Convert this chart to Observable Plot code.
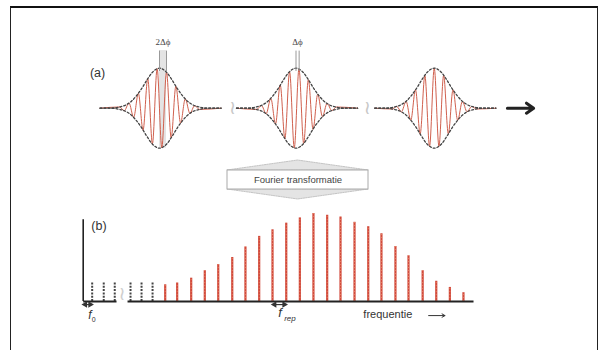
<!DOCTYPE html>
<html><head><meta charset="utf-8">
<script src="https://cdn.jsdelivr.net/npm/d3@7"></script>
<script src="https://cdn.jsdelivr.net/npm/@observablehq/plot@0.6"></script>
<style>
body{margin:0;background:#fff;}
#wrap{position:relative;width:604px;height:350px;overflow:hidden;background:#fff;font-family:"Liberation Sans",Arial,sans-serif;}
#frame{position:absolute;left:10px;top:6px;width:586px;height:400px;border-left:1.5px solid #222;border-top:2px solid #111;border-right:1.5px solid #222;}
.p{position:absolute;left:0;}
</style></head><body>
<div id="wrap"><div id="frame"></div></div>
<script>
// ===== DATA =====
// (a) pulse train, time in fs
const pulseCenters = [0, 39, 78.5];
const pulseLabels = ["2Δϕ", "Δϕ", ""];
const carrierPeakShift = [2.0, 0.9, 0];
const envOffsets = [-17, -14, -11.4, -9.4, -8.0, -6.6, -5.1, -3.7, -2.0, 0, 2.0, 3.7, 5.1, 6.6, 8.0, 9.4, 11.4, 14, 17.6];
const envAmps    = [0, 0, 0.03, 0.09, 0.176, 0.31, 0.49, 0.69, 0.90, 1, 0.90, 0.69, 0.49, 0.31, 0.176, 0.09, 0.03, 0, 0];
const carrier1T = [-17, -11.4, -10.06, -8.72, -7.38, -6.04, -4.7, -3.36, -2.02, -0.68, 0.66, 2.0, 3.34, 4.68, 6.02, 7.36, 8.7, 10.04, 11.38, 17.6];
const carrier1A = [0, 0.03, -0.064, 0.13, -0.23, 0.37, -0.55, 0.74, -0.89, 0.99, -0.99, 0.90, -0.74, 0.55, -0.37, 0.23, -0.13, 0.065, -0.03, 0];
const carrier2T = [-17, -11.21, -9.87, -8.53, -7.19, -5.85, -4.51, -3.17, -1.83, -0.49, 0.85, 2.19, 3.53, 4.87, 6.21, 7.55, 8.89, 10.23, 11.57, 17.6];
const carrier2A = [0, -0.03, 0.07, -0.14, 0.245, -0.39, 0.58, -0.76, 0.91, -0.99, 0.98, -0.88, 0.71, -0.53, 0.35, -0.21, 0.12, -0.06, 0.03, 0];
const carrier3T = [-17, -12.06, -10.72, -9.38, -8.04, -6.7, -5.36, -4.02, -2.68, -1.34, 0, 1.34, 2.68, 4.02, 5.36, 6.7, 8.04, 9.38, 10.72, 12.06, 17.6];
const carrier3A = [0, -0.02, 0.044, -0.09, 0.17, -0.30, 0.46, -0.64, 0.82, -0.95, 1, -0.95, 0.82, -0.64, 0.46, -0.30, 0.17, -0.09, 0.044, -0.02, 0];
const breakTimes = [20.9, 59.4];
const arrowTimes = [99.4, 106.9];

// (b) frequency comb, frequency in units of f_rep
const darkModes = [0.66, 1.51, 2.32, 3.48, 4.29, 5.10];
const darkHeight = 0.215;
const redModes = [6.03, 6.91, 7.94, 8.94, 9.93, 10.96, 11.93, 12.94, 13.92, 14.93, 15.93, 16.93, 17.94, 18.92, 19.95, 20.96, 21.93, 22.96, 23.92, 24.96, 25.96, 26.96, 27.96];
const redHeights = [0.19, 0.21, 0.265, 0.35, 0.42, 0.50, 0.62, 0.74, 0.815, 0.89, 0.95, 1.0, 0.98, 0.96, 0.90, 0.85, 0.77, 0.625, 0.52, 0.35, 0.23, 0.16, 0.10];
const axisSegments = [[0, 2.45], [3.26, 28.7]];
const fRepSpan = [13.92, 14.93];
const f0Span = [0, 0.66];

// ===== BUILD =====
const wrap = document.getElementById("wrap");
function place(svg, offsetTop) { svg.classList.add("p"); svg.style.top = offsetTop + "px"; wrap.appendChild(svg); }
const FONT = "Liberation Sans, Arial, sans-serif";

// --- panel (a)
const carriers = [[carrier1T, carrier1A], [carrier2T, carrier2A], [carrier3T, carrier3A]];
const carrierRows = [];
carriers.forEach(([T, A], i) => T.forEach((t, j) => carrierRows.push({t: pulseCenters[i] + t, a: A[j], pulse: i})));
const envRows = [];
pulseCenters.forEach((c, i) => [1, -1].forEach(s => envOffsets.forEach((o, j) => envRows.push({t: c + o, a: s * envAmps[j], key: i + "_" + s}))));
const markerRows = [];
pulseLabels.forEach((lab, i) => { if (lab) { markerRows.push({t: pulseCenters[i]}); markerRows.push({t: pulseCenters[i] + carrierPeakShift[i]}); } });
const labelRows = pulseLabels.map((lab, i) => ({t: pulseCenters[i] + carrierPeakShift[i] / 2, lab})).filter(d => d.lab);
const shadeRows = [{t1: pulseCenters[0], t2: pulseCenters[0] + carrierPeakShift[0], a1: -1.0, a2: 1.44}];

const plotA = Plot.plot({
  width: 604, height: 160, margin: 0,
  x: {domain: [-159 / 3.5, (604 - 159) / 3.5], range: [0, 604], axis: null},
  y: {domain: [-1, 1], range: [147.7, 67.7], axis: null},
  marks: [
    Plot.rect(shadeRows, {x1: "t1", x2: "t2", y1: "a1", y2: "a2", fill: "#e4e4e4"}),
    Plot.line(carrierRows, {x: "t", y: "a", z: "pulse", curve: "monotone-x", stroke: "#d0604e", strokeWidth: 1}),
    Plot.line(envRows, {x: "t", y: "a", z: "key", curve: "monotone-x", stroke: "#444", strokeWidth: 1.3, strokeDasharray: "2,2"}),
    Plot.link(markerRows, {x1: "t", x2: "t", y1: () => 0.93, y2: () => 1.44, stroke: "#999", strokeWidth: 1}),
    Plot.text(labelRows, {x: "t", y: () => 1.66, text: "lab", fontFamily: "Liberation Serif, serif", fontSize: 9, fill: "#444"}),
    Plot.text(["(a)"], {x: () => -17.7, y: () => 0.87, text: d => d, fontFamily: FONT, fontSize: 12.5, fill: "#333"}),
    Plot.text(breakTimes, {x: d => d, y: () => 0, text: () => "≀", fontFamily: "DejaVu Sans", fontSize: 19, fill: "#c8c8c8"}),
    Plot.arrow([arrowTimes], {x1: d => d[0], x2: d => d[1], y1: () => 0, y2: () => 0, stroke: "#222", strokeWidth: 3, headLength: 9, headAngle: 70})
  ]
});
place(plotA, 0);

// --- Fourier transform block (schematic units)
const blockTopRows = [{x: -1, lo: 1, hi: 1}, {x: 0, lo: 1, hi: 2.05}, {x: 1, lo: 1, hi: 1}];
const blockBotRows = [{x: -1, lo: -1, hi: -1}, {x: 0, lo: -2.05, hi: -1}, {x: 1, lo: -1, hi: -1}];
const blockRows = [{x1: -1, x2: 1, y1: -1, y2: 1}];
const plotFT = Plot.plot({
  width: 604, height: 60, margin: 0,
  x: {domain: [-1, 1], range: [227, 368], axis: null},
  y: {domain: [-1, 1], range: [39, 20], axis: null},
  marks: [
    Plot.areaY(blockTopRows, {x: "x", y1: "lo", y2: "hi", fill: "#e4e4e4", stroke: "#c4c4c4", strokeDasharray: "1.5,1"}),
    Plot.areaY(blockBotRows, {x: "x", y1: "lo", y2: "hi", fill: "#e4e4e4", stroke: "#c4c4c4", strokeDasharray: "1.5,1"}),
    Plot.rect(blockRows, {x1: "x1", x2: "x2", y1: "y1", y2: "y2", fill: "white", stroke: "#aaa"}),
    Plot.text(["Fourier transformatie"], {x: () => 0, y: () => 0, text: d => d, fontFamily: FONT, fontSize: 9.5, fill: "#444"})
  ]
});
place(plotFT, 150);

// --- panel (b)
const redRows = redModes.map((f, i) => ({f, h: redHeights[i]}));
const spans = [f0Span, fRepSpan];
const headRows = spans.flatMap(s => [{f: s[0], rot: -90, dx: 2}, {f: s[1], rot: 90, dx: -2}]);
const plotB = Plot.plot({
  width: 604, height: 140, margin: 0,
  x: {domain: [-82.7 / 13.6, (604 - 82.7) / 13.6], range: [0, 604], axis: null},
  y: {domain: [0, 1], range: [101, 13], axis: null},
  marks: [
    Plot.ruleX(darkModes, {x: d => d, y1: () => 0, y2: () => darkHeight, stroke: "#444", strokeWidth: 2, strokeDasharray: "2,1.3"}),
    Plot.ruleX(redRows, {x: "f", y1: () => 0, y2: "h", stroke: "#d24a3c", strokeWidth: 2.2}),
    Plot.ruleX(redRows, {x: "f", y1: () => 0, y2: "h", stroke: "#f0a070", strokeWidth: 1, strokeDasharray: "1,2", strokeOpacity: 0.6}),
    Plot.link(axisSegments, {x1: d => d[0], x2: d => d[1], y1: () => 0, y2: () => 0, stroke: "#222", strokeWidth: 2}),
    Plot.ruleX([0], {x: d => d, y1: () => 0, y2: () => 0.93, stroke: "#222", strokeWidth: 1.6}),
    Plot.text(["≀"], {x: () => 2.85, y: () => 0.09, text: d => d, fontFamily: "DejaVu Sans", fontSize: 19, fill: "#cfcfcf"}),
    Plot.text(["(b)"], {x: () => 1.16, y: () => 0.86, text: d => d, fontFamily: FONT, fontSize: 12.5, fill: "#333"}),
    Plot.link(spans, {x1: d => d[0], x2: d => d[1], y1: () => -0.035, y2: () => -0.035, stroke: "#333", strokeWidth: 1.2}),
    Plot.dot(headRows.filter(d => d.rot < 0), {x: "f", y: () => -0.035, symbol: "triangle", rotate: "rot", r: 2.4, fill: "#333", dx: 2}),
    Plot.dot(headRows.filter(d => d.rot > 0), {x: "f", y: () => -0.035, symbol: "triangle", rotate: "rot", r: 2.4, fill: "#333", dx: -2}),
    Plot.text(["f"], {x: () => 0.5, y: () => -0.15, text: d => d, fontFamily: FONT, fontStyle: "italic", fontSize: 12, fill: "#333"}),
    Plot.text(["0"], {x: () => 0.78, y: () => -0.21, text: d => d, fontFamily: FONT, fontSize: 7, fill: "#333"}),
    Plot.text(["f"], {x: () => 14.47, y: () => -0.13, text: d => d, fontFamily: FONT, fontStyle: "italic", fontSize: 13, fill: "#333"}),
    Plot.text(["rep"], {x: () => 15.2, y: () => -0.195, text: d => d, fontFamily: FONT, fontStyle: "italic", fontSize: 8, fill: "#333"}),
    Plot.text(["frequentie"], {x: () => 20.6, y: () => -0.148, text: d => d, textAnchor: "start", fontFamily: FONT, fontSize: 11, fill: "#333"}),
    Plot.arrow([[25.4, 26.6]], {x1: d => d[0], x2: d => d[1], y1: () => -0.16, y2: () => -0.16, stroke: "#333", strokeWidth: 1, headLength: 5})
  ]
});
place(plotB, 200);
</script>
</body></html>
